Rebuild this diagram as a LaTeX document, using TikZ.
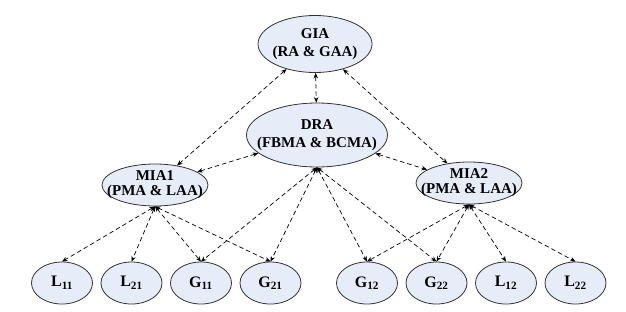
\documentclass[tikz,border=0pt]{standalone}
\usepackage{fontspec}
\setmainfont{Liberation Serif}
\usetikzlibrary{shapes.geometric, arrows.meta}
\definecolor{agentfill}{RGB}{230,236,248}
\tikzstyle{agent} = [ellipse, draw=black!80, line width=0.8pt, fill=agentfill, align=center, inner xsep=-30pt, inner ysep=-14pt, font=\bfseries\fontsize{15}{18}\selectfont]
\tikzstyle{mid} = [agent, minimum width=106pt, minimum height=42pt, font=\bfseries\fontsize{15}{15}\selectfont]
\tikzstyle{unit} = [agent, minimum width=61pt, minimum height=42pt, font=\bfseries\fontsize{16}{18}\selectfont]
\tikzstyle{link} = [line width=0.7pt, dash pattern=on 4.5pt off 3pt, {Stealth[length=5.5pt,width=4.5pt]}-{Stealth[length=5.5pt,width=4.5pt]}]

\begin{document}
\begin{tikzpicture}[x=1pt, y=1pt, node distance=69.5pt]
        \useasboundingbox (0,0) rectangle (626,-311);
        % upper levels
        \node (gia) [agent, minimum width=114pt, minimum height=57pt] at (315,-44) {GIA\\(RA \& GAA)};
        \node (dra) [agent, minimum width=141pt, minimum height=64pt] at (317,-135) {DRA\\(FBMA \& BCMA)};
        \node (mia1) [mid] at (155,-185) {MIA1\\(PMA \& LAA)};
        \node (mia2) [mid] at (469,-183) {MIA2\\(PMA \& LAA)};

        % bottom row
        \node (l11) [unit] at (62,-283) {L\textsubscript{11}};
        \node (l21) [unit, right of=l11] {L\textsubscript{21}};
        \node (g11) [unit, right of=l21] {G\textsubscript{11}};
        \node (g21) [unit, right of=g11] {G\textsubscript{21}};
        \node (g12) [unit, right of=g21, xshift=27pt] {G\textsubscript{12}};
        \node (g22) [unit, right of=g12] {G\textsubscript{22}};
        \node (l12) [unit, right of=g22] {L\textsubscript{12}};
        \node (l22) [unit, right of=l12] {L\textsubscript{22}};

        \draw [link] (gia) -- (mia1);
        \draw [link] (gia) -- (dra);
        \draw [link] (gia) -- (mia2);
        \draw [link] (dra) -- (mia1);
        \draw [link] (dra) -- (mia2);

        \foreach \u in {l11, l21, g11, g21}
            \draw [link] (mia1.south) -- (\u.north);
        \foreach \u in {g11, g21, g12, g22}
            \draw [link] (dra.south) -- (\u.north);
        \foreach \u in {g12, g22, l12, l22}
            \draw [link] (mia2.south) -- (\u.north);
\end{tikzpicture}
\end{document}
